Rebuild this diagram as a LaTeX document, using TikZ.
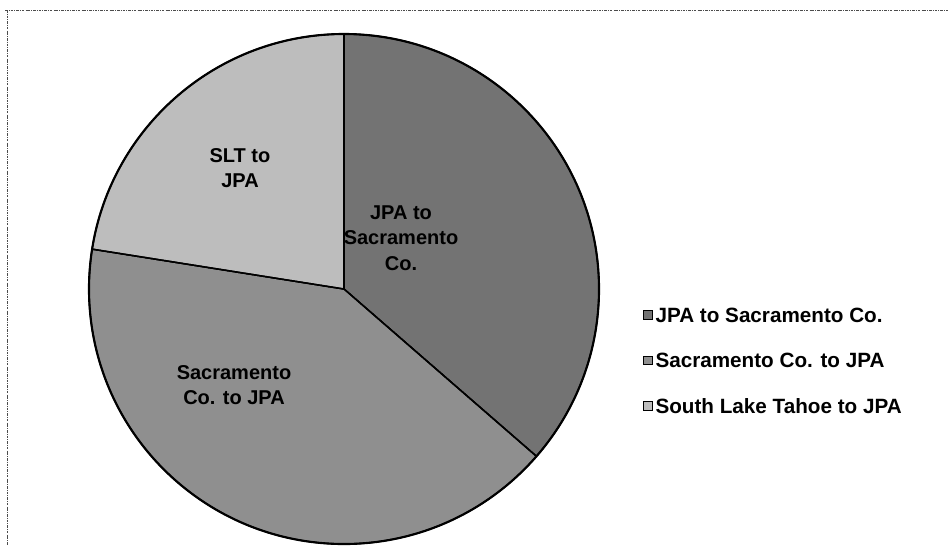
\documentclass[tikz,border=0pt]{standalone}
\usepackage{fontspec}
\setmainfont{Liberation Sans}
\usetikzlibrary{positioning}

\tikzset{every picture/.style={line width=0.75pt}}
\tikzset{
  slice/.style={draw=black, line width=1.1pt, line join=round},
  slicelabel/.style={inner sep=0.75pt, align=center, font=\fontsize{15}{19}\selectfont\bfseries},
  legendkey/.style={draw=black, line width=0.6pt, minimum size=6.5pt, inner sep=0pt},
  legendtext/.style={inner sep=0.75pt, anchor=west, font=\fontsize{15.5}{17}\selectfont\bfseries},
  framerule/.style={black!70, line width=0.6pt, dash pattern=on 2pt off 0.8pt on 0.6pt off 0.8pt}
}
\colorlet{jpasac}{black!55}
\colorlet{sacjpa}{black!44}
\colorlet{sltjpa}{black!26}

\begin{document}
\begin{tikzpicture}[x=0.75pt,y=0.75pt,yscale=-1,xscale=1]
\useasboundingbox (0,0) rectangle (949,551);

% frame of the chart area
\draw[framerule] (5,10) -- (949,10);
\draw[framerule] (7,10) -- (7,545);

% pie
\coordinate (c) at (344,289);
\fill[slice, fill=jpasac] (c) -- ++(-90:255) arc[start angle=-90, end angle=41, radius=255] -- cycle;
\fill[slice, fill=sacjpa] (c) -- ++(41:255) arc[start angle=41, end angle=189, radius=255] -- cycle;
\fill[slice, fill=sltjpa] (c) -- ++(189:255) arc[start angle=189, end angle=270, radius=255] -- cycle;
\draw[slice] (c) -- ++(-90:255);
\draw[slice] (c) -- ++(41:255);
\draw[slice] (c) -- ++(189:255);
\draw[line width=1.6pt] (c) circle[radius=255];

% slice labels
\node[slicelabel] (lab1) at (401,238) {JPA to\\Sacramento\\Co.};
\node[slicelabel] (lab2) at (234,385) {Sacramento\\Co. to JPA};
\node[slicelabel] (lab3) at (240,168) {SLT to\\JPA};

% legend
\node[legendkey, fill=jpasac] (k1) at (648,315) {};
\node[legendtext, right=1pt of k1] (t1) {JPA to Sacramento Co.};
\node[legendkey, fill=sacjpa, below=27pt of k1] (k2) {};
\node[legendtext, right=1pt of k2] (t2) {Sacramento Co. to JPA};
\node[legendkey, fill=sltjpa, below=27pt of k2] (k3) {};
\node[legendtext, right=1pt of k3] (t3) {South Lake Tahoe to JPA};

\end{tikzpicture}
\end{document}
